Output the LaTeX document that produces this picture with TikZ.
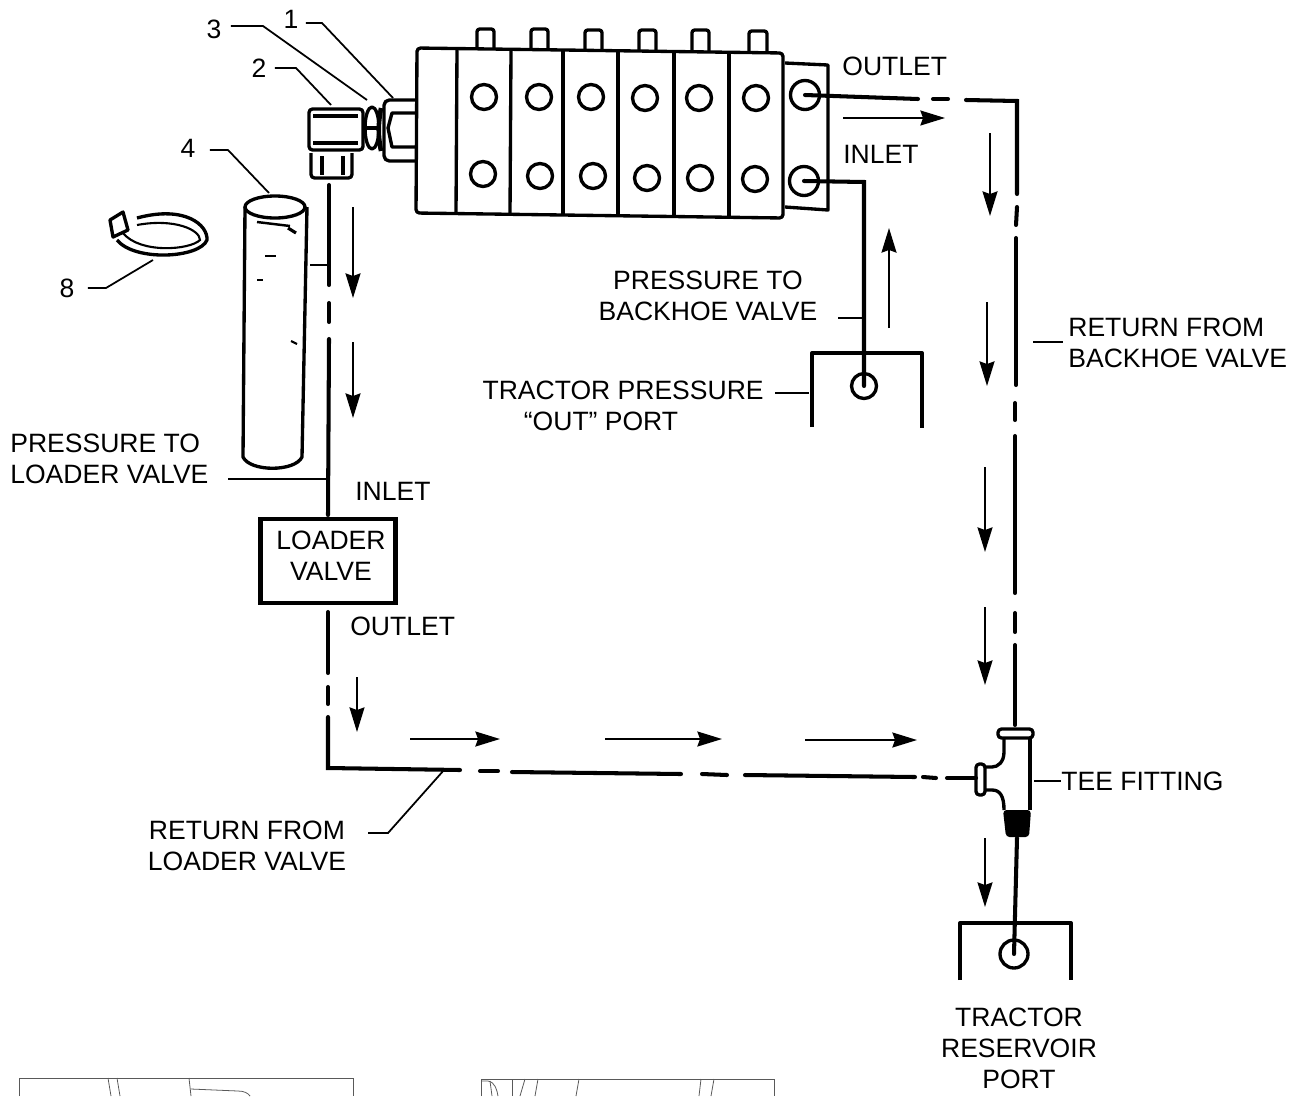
\documentclass[tikz,border=0pt]{standalone}
\usepackage{fontspec}
\setmainfont{Liberation Sans}
\usetikzlibrary{arrows.meta}

\tikzset{
  lbl/.style={inner sep=0pt, font=\fontsize{15.1}{17.6}\selectfont},
  digit/.style={lbl, inner xsep=4pt},
  port/.style={draw, circle, inner sep=0pt, line width=1.9pt, minimum size=0.5cm},
  bigport/.style={port, minimum size=0.58cm},
  part/.style={line width=1.9pt, line join=round},
  pipe/.style={line width=2.3pt, line cap=round},
  leader/.style={line width=1pt},
  flow/.style={line width=1.2pt, -{Stealth[length=14pt,width=8.5pt,inset=1.5pt]}},
  faint/.style={line width=0.45pt, black!65},
}

\begin{document}
\begin{tikzpicture}[x=0.02cm, y=-0.02cm]
  \useasboundingbox (0,0) rectangle (1304,1096);

  % valve stack
  \draw[part, rounded corners=2pt] (417,48) -- (783,53) -- (783,218) -- (416,213) -- cycle;
  \draw[part] (457,49) -- (456,213);
  \draw[part] (511,50) -- (510,214);
  \draw[part] (563,50) -- (563,215);
  \draw[part] (618,51) -- (618,215);
  \draw[part] (674,52) -- (674,216);
  \draw[part] (729,52) -- (729,217);
  \draw[part] (785,63) -- (828,65) -- (828,210) -- (785,207);
  \draw[part, rounded corners=1.5pt] (477,48) -- (477,29) -- (494,29) -- (494,49);
  \draw[part, rounded corners=1.5pt] (531,49) -- (531,29) -- (548,29) -- (548,49);
  \draw[part, rounded corners=1.5pt] (585,50) -- (585,30) -- (602,30) -- (602,50);
  \draw[part, rounded corners=1.5pt] (639,51) -- (639,30) -- (656,30) -- (656,51);
  \draw[part, rounded corners=1.5pt] (692,52) -- (692,30) -- (709,30) -- (709,52);
  \draw[part, rounded corners=1.5pt] (749,53) -- (749,31) -- (767,31) -- (767,53);
  \node[port] (u1) at (484,97) {};
  \node[port] (u2) at (539,97) {};
  \node[port] (u3) at (591,97) {};
  \node[port] (u4) at (645,98) {};
  \node[port] (u5) at (699,98) {};
  \node[port] (u6) at (756,98) {};
  \node[port] (l1) at (483,174) {};
  \node[port] (l2) at (540,176) {};
  \node[port] (l3) at (593,176) {};
  \node[port] (l4) at (647,178) {};
  \node[port] (l5) at (700,178) {};
  \node[port] (l6) at (755,179) {};
  \node[bigport] (outport) at (805,95) {};
  \node[bigport] (inport) at (804,181) {};

  % fittings
  \draw[part, rounded corners=3pt] (417,100) -- (384,100) -- (384,161) -- (417,161);
  \draw[part] (417,113) -- (392,113) -- (388,128) -- (392,147) -- (417,147);
  \draw[line width=2.6pt] (381,108) .. controls (378,125) and (378,135) .. (381,151);
  \draw[part] (372,128) ellipse [x radius=7, y radius=21];
  \draw[part] (365,128) -- (379,128);
  \draw[part, rounded corners=2pt] (363,109) -- (309,109) -- (309,150) -- (363,150) -- cycle;
  \draw[part] (313,116) -- (358,116);
  \draw[part] (313,143) -- (358,143);
  \draw[part, rounded corners=2pt] (311,153) -- (311,178) -- (352,178) -- (352,153);
  \draw[part] (322,156) -- (322,175);
  \draw[part] (343,156) -- (343,175);

  % filter and clamp
  \draw[part] (275,207) ellipse [x radius=30, y radius=11];
  \draw[part] (245,207) -- (243,457) .. controls (250,472) and (295,472) .. (302,457) -- (307,207);
  \draw[line width=1.4pt] (257,222) -- (290,226);
  \draw[line width=1.8pt] (288,228) -- (296,233);
  \draw[line width=1.2pt] (265,256) -- (276,256);
  \draw[line width=1.2pt] (257,280) -- (263,280);
  \draw[line width=1.2pt] (291,341) -- (297,344);
  \draw[part] (137,218) .. controls (185,205) and (208,225) .. (207,240)
    .. controls (200,258) and (135,262) .. (117,240);
  \draw[line width=1.2pt] (137,225) .. controls (175,218) and (200,230) .. (200,240)
    .. controls (190,250) and (140,254) .. (123,233);
  \draw[part, fill=white] (110,220) -- (123,212) -- (128,230) -- (113,237) -- cycle;

  % tee fitting
  \draw[part, rounded corners=2pt] (998,729) rectangle (1033,738);
  \draw[part] (1030,738) -- (1030,810);
  \draw[part] (1004,738) -- (1004,752) .. controls (1004,762) and (998,767) .. (992,767) -- (985,767);
  \draw[part] (985,790) -- (992,790) .. controls (1000,790) and (1004,796) .. (1004,810);
  \draw[part, rounded corners=2pt] (976,764) rectangle (985,795);
  \fill[rounded corners=2pt] (1003,810) -- (1031,810) -- (1029,837) -- (1006,837) -- cycle;

  % ports and valve
  \node[port] (tpport) at (864,386) {};
  \node[port, minimum size=0.56cm] (trport) at (1014,954) {};
  \draw[part] (812,427) -- (812,353) -- (922,353) -- (922,428);
  \draw[part] (960,980) -- (960,923) -- (1071,923) -- (1071,980);
  \node[draw, line width=2.3pt, minimum width=2.7cm, minimum height=1.68cm, inner sep=0pt] (loader) at (328,561) {};

  % pressure to loader valve
  \coordinate (pa1) at (329,185);
  \coordinate (pa2) at (329,285);
  \coordinate (pa3) at (329,303);
  \coordinate (pa4) at (329,322);
  \coordinate (pa5) at (329,339);
  \coordinate (pa6) at (328,515);
  \draw[pipe] (pa1) -- (pa2);
  \draw[pipe] (pa3) -- (pa4);
  \draw[pipe] (pa5) -- (pa6);

  % return from loader valve
  \coordinate (ra1) at (328,612);
  \coordinate (ra2) at (328,673);
  \coordinate (ra3) at (328,687);
  \coordinate (ra4) at (328,704);
  \coordinate (ra5) at (328,717);
  \coordinate (ra6) at (328,768);
  \coordinate (ra7) at (460,770);
  \coordinate (ra8) at (480,771);
  \coordinate (ra9) at (498,771);
  \coordinate (ra10) at (512,772);
  \coordinate (ra11) at (681,774);
  \coordinate (ra12) at (702,774);
  \coordinate (ra13) at (727,775);
  \coordinate (ra14) at (745,775);
  \coordinate (ra15) at (915,777);
  \coordinate (ra16) at (923,777);
  \coordinate (ra17) at (936,778);
  \coordinate (ra18) at (947,778);
  \coordinate (ra19) at (976,778);
  \draw[pipe] (ra1) -- (ra2);
  \draw[pipe] (ra3) -- (ra4);
  \draw[pipe] (ra5) -- (ra6) -- (ra7);
  \draw[pipe] (ra8) -- (ra9);
  \draw[pipe] (ra10) -- (ra11);
  \draw[pipe] (ra12) -- (ra13);
  \draw[pipe] (ra14) -- (ra15);
  \draw[pipe] (ra16) -- (ra17);
  \draw[pipe] (ra18) -- (ra19);

  % pressure to backhoe valve
  \coordinate (pb1) at (864,182);
  \draw[pipe] (inport.center) -- (pb1) -- (tpport.center);

  % return from backhoe valve
  \coordinate (rb1) at (918,99);
  \coordinate (rb2) at (933,99);
  \coordinate (rb3) at (948,99);
  \coordinate (rb4) at (966,100);
  \coordinate (rb5) at (1017,101);
  \coordinate (rb6) at (1017,194);
  \coordinate (rb7) at (1017,207);
  \coordinate (rb8) at (1016,225);
  \coordinate (rb9) at (1016,238);
  \coordinate (rb10) at (1016,385);
  \coordinate (rb11) at (1015,403);
  \coordinate (rb12) at (1015,420);
  \coordinate (rb13) at (1015,436);
  \coordinate (rb14) at (1015,593);
  \coordinate (rb15) at (1015,613);
  \coordinate (rb16) at (1015,632);
  \coordinate (rb17) at (1015,645);
  \coordinate (rb18) at (1015,725);
  \coordinate (rb19) at (1017,838);
  \draw[pipe] (outport.center) -- (rb1);
  \draw[pipe] (rb2) -- (rb3);
  \draw[pipe] (rb4) -- (rb5) -- (rb6);
  \draw[pipe] (rb7) -- (rb8);
  \draw[pipe] (rb9) -- (rb10);
  \draw[pipe] (rb11) -- (rb12);
  \draw[pipe] (rb13) -- (rb14);
  \draw[pipe] (rb15) -- (rb16);
  \draw[pipe] (rb17) -- (rb18);
  \draw[pipe] (rb19) -- (trport.center);

  % flow arrows
  \draw[flow] (353,207) -- (353,298);
  \draw[flow] (353,342) -- (353,418);
  \draw[flow] (357,677) -- (357,732);
  \draw[flow] (410,739) -- (500,739);
  \draw[flow] (605,739) -- (722,739);
  \draw[flow] (805,740) -- (917,740);
  \draw[flow] (843,118) -- (945,118);
  \draw[flow] (889,328) -- (889,228);
  \draw[flow] (990,133) -- (990,216);
  \draw[flow] (987,302) -- (987,386);
  \draw[flow] (985,467) -- (985,552);
  \draw[flow] (985,607) -- (985,685);
  \draw[flow] (985,838) -- (985,907);

  % labels
  \node[digit] (n1) at (291,19) {1};
  \node[digit] (n2) at (259,68) {2};
  \node[digit] (n3) at (214,29) {3};
  \node[digit] (n4) at (188,148) {4};
  \node[digit] (n8) at (67,288) {8};
  \node[lbl, anchor=west] (outleta) at (842,66) {OUTLET};
  \node[lbl, anchor=west] (inleta) at (843,154) {INLET};
  \node[lbl, align=center] (pbv) at (708,296) {PRESSURE TO\\BACKHOE VALVE};
  \node[lbl, anchor=east] (tpa) at (764,390) {TRACTOR PRESSURE};
  \node[lbl] (tpb) at (601,421) {“OUT” PORT};
  \node[lbl, anchor=west, align=left] (rbv) at (1068,343) {RETURN FROM\\BACKHOE VALVE};
  \node[lbl, anchor=west, align=left] (plv) at (10,459) {PRESSURE TO\\LOADER VALVE};
  \node[lbl, anchor=west] (inletb) at (355,491) {INLET};
  \node[lbl, align=center] (loadertext) at (331,556) {LOADER\\VALVE};
  \node[lbl, anchor=west] (outletb) at (350,626) {OUTLET};
  \node[lbl, align=center] (rlv) at (247,846) {RETURN FROM\\LOADER VALVE};
  \node[lbl, anchor=west] (teetext) at (1061,781) {TEE FITTING};
  \node[lbl, align=center] (trp) at (1019,1048) {TRACTOR\\RESERVOIR\\PORT};

  % leaders
  \coordinate (k1) at (322,23);
  \coordinate (e1) at (393,98);
  \coordinate (k2) at (296,68);
  \coordinate (e2) at (331,105);
  \coordinate (k3) at (263,26);
  \coordinate (e3) at (367,100);
  \coordinate (k4) at (228,150);
  \coordinate (e4) at (269,193);
  \coordinate (k8) at (106,288);
  \coordinate (e8) at (153,260);
  \draw[leader] (n1.east) ++(0,4) -- (k1) -- (e1);
  \draw[leader] (n2.east) ++(1,0) -- (k2) -- (e2);
  \draw[leader] (n3.east) ++(2,-3) -- (k3) -- (e3);
  \draw[leader] (n4.east) ++(7,2) -- (k4) -- (e4);
  \draw[leader] (n8.east) ++(6,0) -- (k8) -- (e8);
  \coordinate (t1) at (310,265);
  \coordinate (t2) at (329,265);
  \coordinate (t3) at (838,318);
  \coordinate (t4) at (864,318);
  \coordinate (t5) at (775,393);
  \coordinate (t6) at (809,393);
  \coordinate (t7) at (1033,342);
  \coordinate (t8) at (1063,342);
  \coordinate (t9) at (228,479);
  \coordinate (t10) at (328,479);
  \coordinate (t11) at (368,833);
  \coordinate (t12) at (388,833);
  \coordinate (t13) at (444,770);
  \coordinate (t14) at (1034,781);
  \draw[leader] (t1) -- (t2);
  \draw[leader] (t3) -- (t4);
  \draw[leader] (t5) -- (t6);
  \draw[leader] (t7) -- (t8);
  \draw[leader] (t9) -- (t10);
  \draw[leader] (t11) -- (t12) -- (t13);
  \draw[leader] (t14) -- (teetext.west);

  % cut-off frames at the foot of the page
  \draw[faint] (19,1096) -- (19,1078) -- (353,1078) -- (353,1096);
  \draw[faint] (108,1078) -- (111,1096);
  \draw[faint] (117,1078) -- (120,1096);
  \draw[faint] (189,1078) -- (191,1096);
  \draw[faint] (191,1089) -- (238,1091) .. controls (244,1091) and (248,1093) .. (250,1096);
  \draw[faint] (481,1096) -- (481,1079) -- (774,1079) -- (774,1096);
  \draw[faint] (481,1081) -- (488,1081) .. controls (495,1082) and (497,1090) .. (498,1096);
  \draw[faint] (490,1081) -- (492,1096);
  \draw[faint] (512,1079) -- (512,1096);
  \draw[faint] (525,1079) -- (520,1096);
  \draw[faint] (538,1079) -- (535,1096);
  \draw[faint] (579,1079) -- (576,1096);
  \draw[faint] (701,1079) -- (699,1096);
  \draw[faint] (714,1079) -- (711,1096);
\end{tikzpicture}
\end{document}
